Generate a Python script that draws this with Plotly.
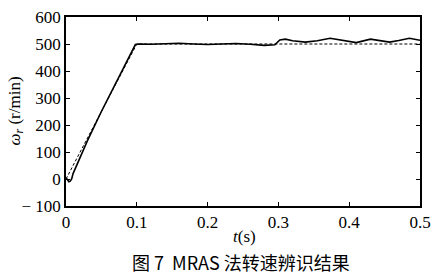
import plotly.graph_objects as go

# Reference speed (dashed)
t_ref = [0.0, 0.1, 0.5]
w_ref = [0, 500, 500]

# MRAS estimated speed (solid)
t_est = [0.0, 0.002, 0.004, 0.006, 0.008, 0.01, 0.03, 0.05, 0.07, 0.09, 0.098,
         0.102, 0.12, 0.14, 0.16, 0.18, 0.2, 0.22, 0.24, 0.26, 0.28, 0.295,
         0.302, 0.31, 0.32, 0.338, 0.355, 0.373, 0.39, 0.41, 0.43, 0.445,
         0.457, 0.47, 0.485, 0.5]
w_est = [5, -2, -10, -8, 0, 20, 140, 250, 355, 460, 498,
         500, 499, 501, 503, 500, 498, 500, 502, 499, 495, 497,
         515, 518, 512, 507, 512, 521, 513, 505, 518, 512,
         507, 513, 521, 514]

x_ticks = [0, 0.1, 0.2, 0.3, 0.4, 0.5]
x_ticklabels = ["0", "0.1", "0.2", "0.3", "0.4", "0.5"]
y_ticks = [-100, 0, 100, 200, 300, 400, 500, 600]
y_ticklabels = ["\u2212 100", "0", "100", "200", "300", "400", "500", "600"]

fig = go.Figure()
fig.add_trace(go.Scatter(x=t_ref, y=w_ref, mode="lines",
                         line=dict(color="black", width=1, dash="3px,2px")))
fig.add_trace(go.Scatter(x=t_est, y=w_est, mode="lines",
                         line=dict(color="black", width=1.6)))

serif = "Liberation Serif"
fig.update_layout(
    width=440, height=277,
    margin=dict(l=66, r=20, t=8, b=71),
    paper_bgcolor="white", plot_bgcolor="white",
    showlegend=False,
    font=dict(family=serif, color="black", size=17),
)
fig.update_xaxes(range=[0, 0.5], tickvals=x_ticks, ticktext=x_ticklabels,
                 ticks="inside", ticklen=4, tickcolor="black",
                 showline=True, linecolor="black", linewidth=1.5, mirror="ticks",
                 showgrid=False, zeroline=False,
                 tickfont=dict(family=serif, size=17, color="black"))
fig.update_yaxes(range=[-100, 600], tickvals=y_ticks, ticktext=y_ticklabels,
                 ticks="inside", ticklen=4, tickcolor="black",
                 showline=True, linecolor="black", linewidth=1.5, mirror="ticks",
                 showgrid=False, zeroline=False,
                 tickfont=dict(family=serif, size=17, color="black"))

fig.add_annotation(text="<i>ω<sub>r</sub></i> (r/min)", xref="paper", yref="paper",
                   x=(15 - 66) / 354, y=(206 - 107) / 198,
                   xanchor="center", yanchor="middle",
                   textangle=-90, showarrow=False,
                   font=dict(family=serif, size=17, color="black"))
fig.add_annotation(text="<i>t</i>(s)", xref="paper", yref="paper",
                   x=(245 - 66) / 354, y=(206 - 238) / 198,
                   xanchor="center", yanchor="middle",
                   showarrow=False, font=dict(family=serif, size=17, color="black"))
fig.add_annotation(text="图 7  MRAS 法转速辨识结果", xref="paper", yref="paper",
                   x=(241 - 66) / 354, y=(206 - 265) / 198,
                   xanchor="center", yanchor="middle",
                   showarrow=False,
                   font=dict(family="Noto Sans CJK SC", size=18, color="black"))

fig.write_html("out.html")
